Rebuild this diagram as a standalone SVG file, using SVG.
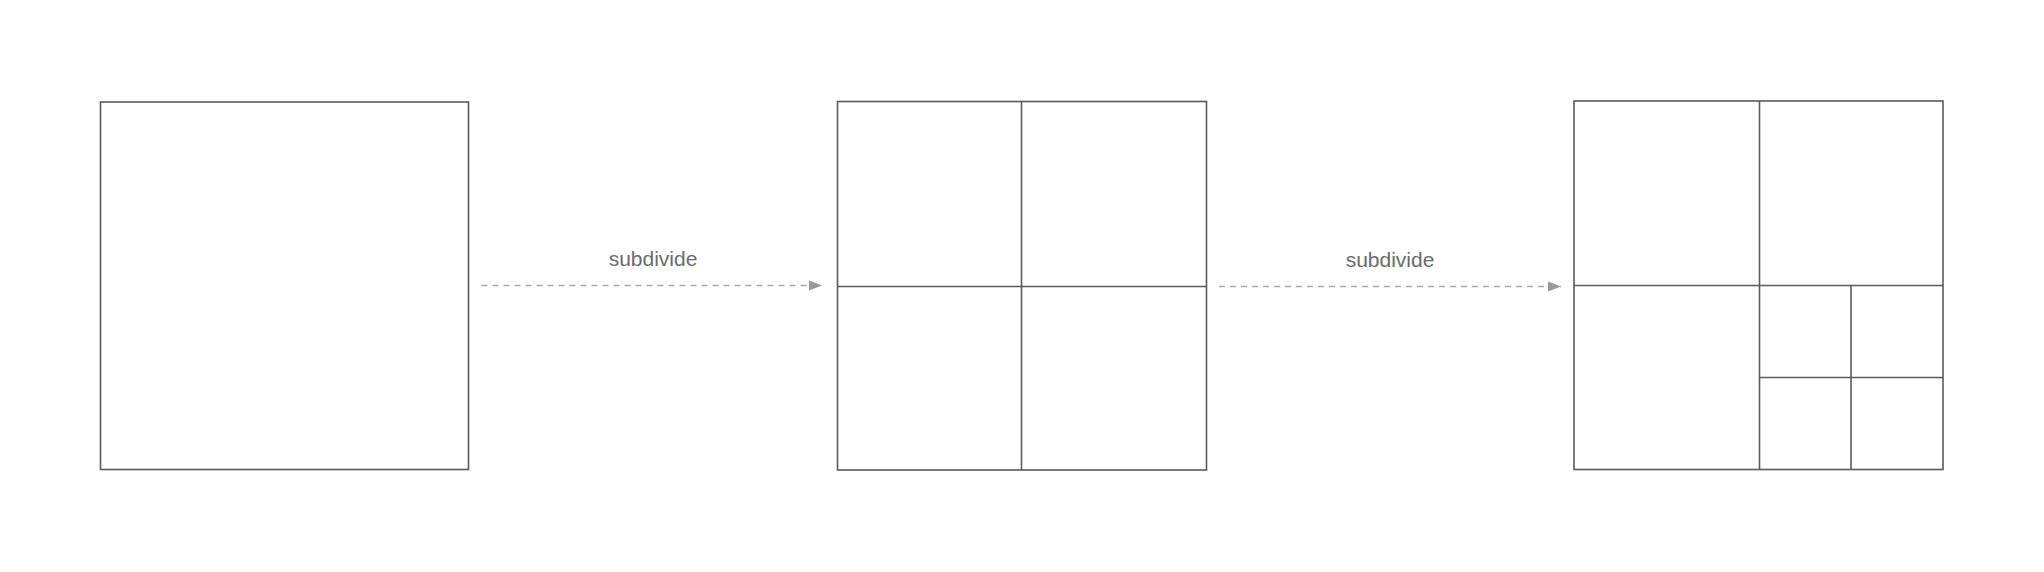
<svg xmlns="http://www.w3.org/2000/svg" width="2044" height="572" viewBox="0 0 2044 572">
<defs>
<style>
.box{fill:none;stroke:#5a5a5a;stroke-width:1.6}
.ln{stroke:#5a5a5a;stroke-width:1.6}
.conn{stroke:#aaaaaa;stroke-width:1.6;stroke-dasharray:6 5;fill:none}
.lbl{font-family:"Liberation Sans",Arial,sans-serif;font-size:21px;fill:#6b6b6b;text-anchor:middle}
</style>
<marker id="ah" markerWidth="16" markerHeight="12" refX="14" refY="6" orient="auto" markerUnits="userSpaceOnUse">
<path d="M1,1 L14,6 L1,11 Z" fill="#999999"/>
</marker>
</defs>
<rect width="2044" height="572" fill="#ffffff"/>
<g id="square1">
<rect class="box" x="100.5" y="102" width="368" height="367.5"/>
</g>
<g id="square2">
<rect class="box" x="837.5" y="101.5" width="369" height="368.5"/>
<line class="ln" x1="1021.5" y1="101.5" x2="1021.5" y2="470"/>
<line class="ln" x1="837.5" y1="286.5" x2="1206.5" y2="286.5"/>
</g>
<g id="square3">
<rect class="box" x="1574" y="101" width="369" height="368.5"/>
<line class="ln" x1="1759.5" y1="101" x2="1759.5" y2="469.5"/>
<line class="ln" x1="1574" y1="285.5" x2="1943" y2="285.5"/>
<line class="ln" x1="1851" y1="285.5" x2="1851" y2="469.5"/>
<line class="ln" x1="1759.5" y1="377.5" x2="1943" y2="377.5"/>
</g>
<g id="connectors">
<line class="conn" x1="481.5" y1="285.5" x2="822" y2="285.5" marker-end="url(#ah)"/>
<text class="lbl" x="653" y="266">subdivide</text>
<line class="conn" x1="1219" y1="286.5" x2="1561" y2="286.5" marker-end="url(#ah)"/>
<text class="lbl" x="1390" y="266.5">subdivide</text>
</g>
</svg>
